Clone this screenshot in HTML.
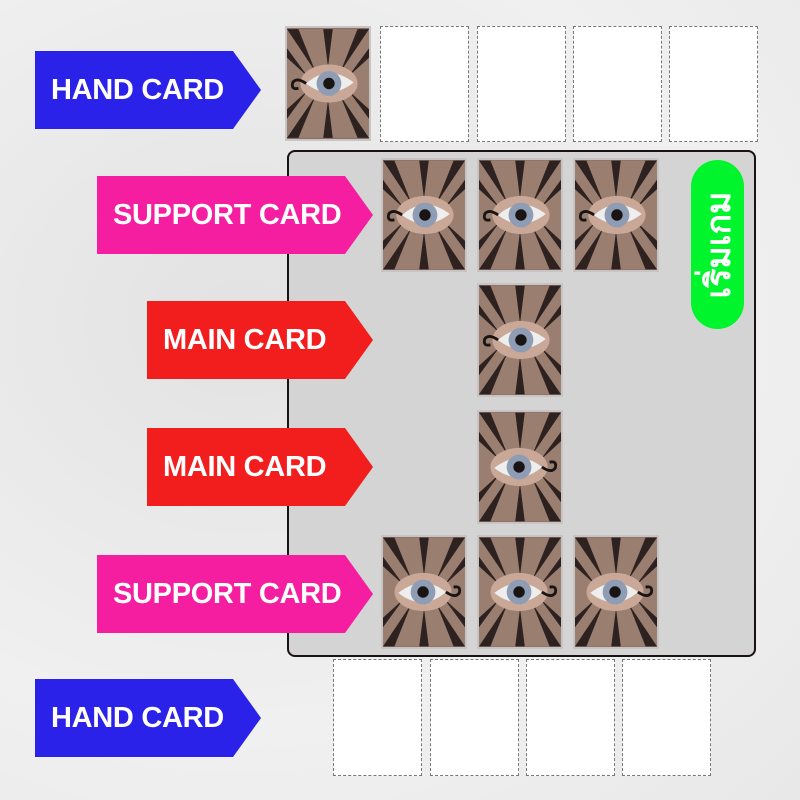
<!DOCTYPE html>
<html><head><meta charset="utf-8"><style>
body{margin:0;width:800px;height:800px;overflow:hidden;position:relative;background:radial-gradient(ellipse at 30% 40%,#e2e2e2,#f0f0f0 60%,#e8e8e8);font-family:"Liberation Sans",sans-serif}
.lab{position:absolute;z-index:5;color:#fff;font-weight:bold;font-size:29px;line-height:78px;clip-path:polygon(0 0,calc(100% - 28px) 0,100% 50%,calc(100% - 28px) 100%,0 100%);height:78px;box-sizing:border-box;padding-left:16px;letter-spacing:-0.3px}
.blue{background:#2b22ea}.pink{background:#f61ea0}.red{background:#f21d1d}
.card{position:absolute;width:86px;height:114px;box-sizing:border-box}
.empty{background:#fff;border:1px dashed #777}
.img{border:2px solid #c8c4c4;background:#8a6f62}
.img svg{width:100%;height:100%;display:block}
.board{position:absolute;left:287px;top:150px;width:469px;height:507px;box-sizing:border-box;border:2px solid #1a1212;border-radius:8px;background:#d4d4d4}
.pill{position:absolute;left:691px;top:160px;width:53px;height:169px;border-radius:27px;background:#00f52c}
.pill span{position:absolute;left:50%;top:50%;transform:translate(-50%,-50%) rotate(-90deg);color:#fff;font-weight:bold;font-size:34px;white-space:nowrap;font-family:"Liberation Sans","Noto Sans CJK SC",sans-serif}
</style></head><body>
<svg width="0" height="0" style="position:absolute"><defs>
<symbol id="eye" viewBox="0 0 86 114">
<rect width="86" height="114" fill="#8c7064"/>
<rect width="86" height="114" fill="#a88b7c" opacity=".5"/>
<g fill="#2e2220">
<polygon points="0,0 12,0 30,45"/><polygon points="74,0 86,0 56,45"/><polygon points="38,0 48,0 43,40"/>
<polygon points="0,114 12,114 30,70"/><polygon points="74,114 86,114 56,70"/><polygon points="38,114 48,114 43,74"/>
<polygon points="0,20 0,30 22,50"/><polygon points="86,20 86,30 64,50"/>
<polygon points="0,94 0,84 22,64"/><polygon points="86,94 86,84 64,64"/>
</g>
<ellipse cx="44" cy="57" rx="30" ry="20" fill="#c9a898"/>
<path d="M20 57 Q44 36 70 56 Q44 76 20 57Z" fill="#eee"/>
<circle cx="44" cy="57" r="13" fill="#8e9cb4"/>
<circle cx="44" cy="57" r="6" fill="#1a1414"/>
<path d="M20 57 Q10 50 6 56 Q4 64 12 62" fill="none" stroke="#1a1414" stroke-width="3"/>
</symbol></defs></svg>

<div class="lab blue" style="left:35px;top:51px;width:226px">HAND CARD</div>
<div class="lab pink" style="left:97px;top:176px;width:276px">SUPPORT CARD</div>
<div class="lab red" style="left:147px;top:301px;width:226px">MAIN CARD</div>
<div class="lab red" style="left:147px;top:428px;width:226px">MAIN CARD</div>
<div class="lab pink" style="left:97px;top:555px;width:276px">SUPPORT CARD</div>
<div class="lab blue" style="left:35px;top:679px;width:226px">HAND CARD</div>

<div class="card img" style="left:285px;top:26px;height:115px"><svg><use href="#eye"/></svg></div>
<div class="card empty" style="left:380px;top:26px;width:89px;height:116px"></div>
<div class="card empty" style="left:477px;top:26px;width:89px;height:116px"></div>
<div class="card empty" style="left:573px;top:26px;width:89px;height:116px"></div>
<div class="card empty" style="left:669px;top:26px;width:89px;height:116px"></div>

<div class="board"></div>
<div class="pill"><span>เริ่มเกม</span></div>

<div class="card img" style="left:381px;top:158px"><svg><use href="#eye"/></svg></div>
<div class="card img" style="left:477px;top:158px"><svg><use href="#eye"/></svg></div>
<div class="card img" style="left:573px;top:158px"><svg><use href="#eye"/></svg></div>
<div class="card img" style="left:477px;top:283px"><svg><use href="#eye"/></svg></div>
<div class="card img" style="left:477px;top:410px"><svg style="transform:rotate(180deg)"><use href="#eye"/></svg></div>
<div class="card img" style="left:381px;top:535px"><svg style="transform:rotate(180deg)"><use href="#eye"/></svg></div>
<div class="card img" style="left:477px;top:535px"><svg style="transform:rotate(180deg)"><use href="#eye"/></svg></div>
<div class="card img" style="left:573px;top:535px"><svg style="transform:rotate(180deg)"><use href="#eye"/></svg></div>

<div class="card empty" style="left:333px;top:659px;width:89px;height:117px"></div>
<div class="card empty" style="left:430px;top:659px;width:89px;height:117px"></div>
<div class="card empty" style="left:526px;top:659px;width:89px;height:117px"></div>
<div class="card empty" style="left:622px;top:659px;width:89px;height:117px"></div>
</body></html>
